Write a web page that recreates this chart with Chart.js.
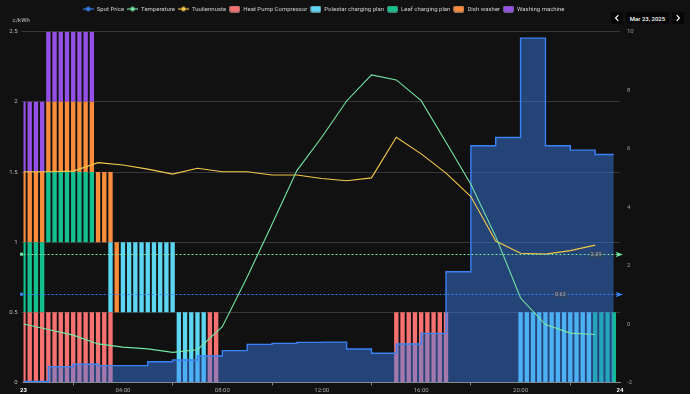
<!DOCTYPE html>
<html><head><meta charset="utf-8">
<script src="https://cdn.jsdelivr.net/npm/chart.js@4.4.1/dist/chart.umd.min.js"></script>
<style>
html,body{margin:0;padding:0;background:#111111;}
#wrap{position:relative;width:690px;height:394px;overflow:hidden;background:#111111;}
canvas{position:absolute;left:0;top:0;}
.nav{position:absolute;top:12px;height:12px;background:#060606;border-radius:2px;display:flex;align-items:center;justify-content:center;color:#ffffff;font:500 6px Roboto, sans-serif;white-space:nowrap;}
</style></head>
<body>
<div id="wrap">
<canvas id="c" width="690" height="394"></canvas>
<div class="nav" style="left:611px;width:12px"><svg width="6" height="8" viewBox="0 0 6 8"><polyline points="4.3,1.2 1.6,4 4.3,6.8" fill="none" stroke="#fff" stroke-width="1.2"/></svg></div>
<div class="nav" style="left:626px;width:43px">Mar 23, 2025</div>
<div class="nav" style="left:672px;width:12px"><svg width="6" height="8" viewBox="0 0 6 8"><polyline points="1.7,1.2 4.4,4 1.7,6.8" fill="none" stroke="#fff" stroke-width="1.2"/></svg></div>
</div>
<script>
// ---------- DATA ----------
const spotPrice = [0.007,0.113,0.13,0.12,0.12,0.148,0.16,0.189,0.227,0.272,0.279,0.286,0.288,0.239,0.208,0.274,0.35,0.789,1.687,1.746,2.454,1.687,1.656,1.625];
const spotEndHour = 23.75;
const temperature = [0.0,-0.19,-0.38,-0.68,-0.79,-0.85,-0.97,-0.88,-0.09,1.61,3.41,5.25,6.39,7.63,8.52,8.35,7.64,6.22,4.78,2.99,0.89,-0.02,-0.31,-0.36];
const windForecast = [5.21,5.21,5.23,5.52,5.44,5.30,5.13,5.33,5.21,5.21,5.10,5.10,4.98,4.90,5.00,6.39,5.82,5.16,4.36,2.84,2.42,2.39,2.51,2.70];
const avgSpot = 0.63;
const avgTemp = 2.39;
// plans: [start, end (inclusive, 15-min slots), lane]
const heatPumpPlan = [["00:00","03:30",0],["07:30","07:45",0],["15:00","17:00",0]];
const polestarPlan = [["03:30","03:30",1],["04:00","06:00",1],["06:15","07:15",0],["20:00","22:45",0]];
const leafPlan = [["00:00","00:45",1],["01:00","02:45",2],["23:00","23:45",0]];
const dishWasherPlan = [["00:00","00:45",2],["01:00","02:45",3],["03:00","03:30",2],["03:45","03:45",1]];
const washingMachinePlan = [["00:00","00:45",3],["01:00","02:45",4]];
const laneHeight = 0.5;
const slotHours = 0.25;
const xTickLabels = ["23","04:00","08:00","12:00","16:00","20:00","24"];
const yTickLabels = ["0","0.5","1","1.5","2","2.5"];
const seriesNames = ["Spot Price","Temperature","Tuuliennuste","Heat Pump Compressor","Polestar charging plan","Leaf charging plan","Dish washer","Washing machine"];

// ---------- STYLE ----------
const FONT = 'Roboto, "Open Sans", sans-serif';
const spotColor = '#3b82f6';
const tempColor = '#74e6a3';
const windColor = '#f4c84a';
const planColors = ['#f87171','#5cd6f2','#13c08e','#fb8c3c','#9550e6'];

const toHours = s => { const [h,m] = s.split(':').map(Number); return h + m/60; };
function planBars(plan){
  const pts = [];
  for (const [s,e,lane] of plan){
    const a = toHours(s), b = toHours(e);
    for (let k = 0; a + k*slotHours <= b + 1e-9; k++){
      pts.push({x: a + k*slotHours, y: [lane*laneHeight, (lane+1)*laneHeight]});
    }
  }
  return pts;
}
const spotData = spotPrice.map((v,i)=>({x:i,y:v})).concat([{x:spotEndHour,y:spotPrice[spotPrice.length-1]}]);
const tempData = temperature.map((v,i)=>({x:i,y:v}));
const windData = windForecast.map((v,i)=>({x:i,y:v}));

function legendIcon(isLine, color){
  const c = document.createElement('canvas'); c.width = 11; c.height = 7;
  const g = c.getContext('2d');
  if (isLine){
    g.strokeStyle = color; g.lineWidth = 1.2;
    g.beginPath(); g.moveTo(0,3.5); g.lineTo(11,3.5); g.stroke();
    g.fillStyle = color; g.beginPath(); g.arc(5.5,3.5,2.2,0,Math.PI*2); g.fill();
  } else {
    g.fillStyle = color;
    g.beginPath(); g.roundRect ? g.roundRect(0.5,0.5,10,6,1.2) : g.rect(0.5,0.5,10,6); g.fill();
    g.strokeStyle = 'rgba(255,255,255,0.35)'; g.lineWidth = 0.6; g.stroke();
  }
  return c;
}

const plans = [heatPumpPlan, polestarPlan, leafPlan, dishWasherPlan, washingMachinePlan];
const datasets = [
  {type:'line', label:seriesNames[0], data:spotData, yAxisID:'y', borderColor:spotColor, backgroundColor:'rgba(59,130,246,0.45)', fill:'origin', stepped:true, borderWidth:1.4, pointRadius:0, order:2},
  {type:'line', label:seriesNames[1], data:tempData, yAxisID:'y1', borderColor:tempColor, backgroundColor:tempColor, fill:false, borderWidth:1.1, pointRadius:0, tension:0, order:0},
  {type:'line', label:seriesNames[2], data:windData, yAxisID:'y1', borderColor:windColor, backgroundColor:windColor, fill:false, borderWidth:1.1, pointRadius:0, tension:0, order:1},
];
plans.forEach((p,i)=>{
  datasets.push({type:'bar', label:seriesNames[3+i], data:planBars(p), yAxisID:'y', backgroundColor:planColors[i], borderWidth:0, grouped:false, barPercentage:0.7, categoryPercentage:1, order:3+i});
});

const avgLines = [
  {value:avgTemp, axis:'y1', color:tempColor, labelHour:23.04},
  {value:avgSpot, axis:'y', color:spotColor, labelHour:21.6},
];

const layoutPlugin = {
  id:'layoutTweak',
  beforeLayout(chart){
    const lg = chart.legend;
    if (lg && !lg.__patched){
      const f = lg.fit;
      lg.fit = function(){ f.call(this); this.height = 28.7; };
      lg.__patched = true;
    }
  },
  afterLayout(chart){
    const lg = chart.legend;
    if (lg) lg.left = 82.7 - lg.options.labels.padding;
  }
};

const annoPlugin = {
  id:'avgLines',
  afterDatasetsDraw(chart){
    const {ctx, chartArea:{left,right}} = chart;
    for (const a of avgLines){
      const y = Math.round(chart.scales[a.axis].getPixelForValue(a.value)) + 0.5;
      ctx.save();
      ctx.strokeStyle = a.color; ctx.lineWidth = 1; ctx.setLineDash([2,2]);
      ctx.beginPath(); ctx.moveTo(left, y); ctx.lineTo(right, y); ctx.stroke();
      ctx.setLineDash([]);
      ctx.fillStyle = a.color;
      ctx.fillRect(left-3.5, y-1.8, 3, 3);
      ctx.beginPath(); ctx.moveTo(right-4.5, y-2.8); ctx.lineTo(right+3, y); ctx.lineTo(right-4.5, y+2.8); ctx.lineTo(right-2.5, y); ctx.closePath(); ctx.fill();
      const x = chart.scales.x.getPixelForValue(a.labelHour);
      ctx.font = '5.5px ' + FONT;
      const t = a.value.toFixed(2);
      const w = ctx.measureText(t).width;
      ctx.fillStyle = 'rgba(70,70,70,0.35)';
      ctx.fillRect(x - w/2 - 1.5, y - 3.5, w + 3, 7);
      ctx.fillStyle = '#a6a6a6'; ctx.textAlign = 'center'; ctx.textBaseline = 'middle';
      ctx.fillText(t, x, y + 0.3);
      ctx.restore();
    }
  },
  afterDraw(chart){
    const ctx = chart.ctx;
    ctx.save();
    ctx.font = '6px ' + FONT; ctx.fillStyle = '#c4c4c4'; ctx.textAlign = 'left'; ctx.textBaseline = 'middle';
    ctx.fillText('c/kWh', 12.5, 20);
    ctx.restore();
  }
};

const isEdge = c => c.tick && (c.tick.value === 0 || c.tick.value === 24);

new Chart(document.getElementById('c'), {
  data:{datasets},
  options:{
    responsive:false, animation:false, devicePixelRatio:1,
    layout:{padding:{top:3,left:0,right:0,bottom:0}},
    plugins:{
      legend:{
        position:'top', align:'start',
        labels:{
          usePointStyle:true, pointStyleWidth:11, padding:3, color:'#cfcfcf',
          font:{family:FONT, size:6},
          generateLabels(chart){
            return chart.data.datasets.map((ds,i)=>({
              text: ds.label,
              fillStyle: ds.type==='line' ? ds.borderColor : ds.backgroundColor,
              strokeStyle: 'transparent', lineWidth: 0,
              hidden: !chart.isDatasetVisible(i), datasetIndex: i,
              pointStyle: legendIcon(ds.type==='line', ds.type==='line' ? ds.borderColor : ds.backgroundColor),
              fontColor: '#cfcfcf'
            }));
          }
        }
      },
      tooltip:{enabled:false}
    },
    scales:{
      x:{
        type:'linear', min:0, max:24, offset:false,
        ticks:{stepSize:4, autoSkip:false, maxRotation:0, padding:1,
          callback:(v,i)=>xTickLabels[i],
          color:c=> isEdge(c) ? '#ffffff' : '#a8a8a8',
          font:c=>({family:FONT, size:6, weight: isEdge(c) ? 'bold' : 'normal'})},
        grid:{drawOnChartArea:false, drawTicks:true, tickLength:3, color:'#8a8a8a'},
        border:{display:true, color:'#8a8a8a', width:1},
        afterFit(s){ s.height = 11.5; }
      },
      y:{
        position:'left', min:0, max:2.5,
        ticks:{stepSize:0.5, color:'#bdbdbd', font:{family:FONT, size:6}, padding:4,
          callback:(v,i)=>yTickLabels[i]},
        grid:{color:'rgba(255,255,255,0.16)', drawTicks:true, tickLength:2, lineWidth:1},
        border:{display:false},
        afterFit(s){ s.width = 23.5; }
      },
      y1:{
        position:'right', min:-2, max:10,
        ticks:{stepSize:2, color:'#9c9c9c', font:{family:FONT, size:6}, padding:7},
        grid:{drawOnChartArea:false, drawTicks:false},
        border:{display:false},
        afterFit(s){ s.width = 70; }
      }
    }
  },
  plugins:[layoutPlugin, annoPlugin]
});
</script>
</body></html>
